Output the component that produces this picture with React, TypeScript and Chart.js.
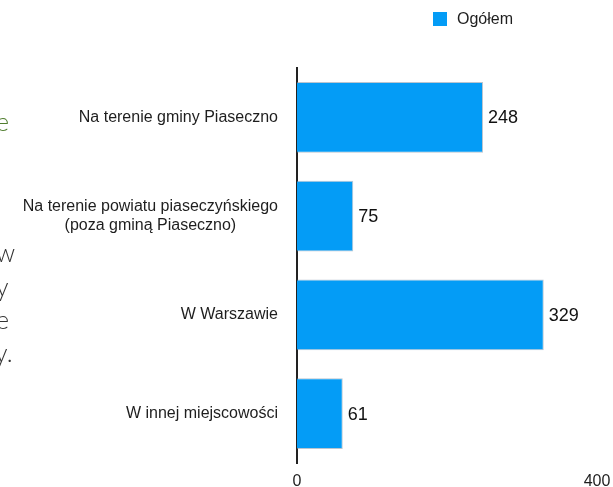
import React, { useEffect, useRef } from "react";
import { Chart, registerables } from "chart.js";

Chart.register(...registerables);

const categories: (string | string[])[] = [
  "Na terenie gminy Piaseczno",
  ["Na terenie powiatu piaseczyńskiego", "(poza gminą Piaseczno)"],
  "W Warszawie",
  "W innej miejscowości",
];
const values: number[] = [248, 75, 329, 61];
const xTicks: number[] = [0, 400];
const seriesLabel = "Ogółem";
const strayLetters: string[] = ["e", "w", "y", "e", "y."];

const BAR_COLOR = "#049cf6";
const TEXT_COLOR = "#1e1e1e";
const FONT = "'Liberation Sans', Arial, Helvetica, sans-serif";
const LABEL_SIZE = 16;
const LABEL_GAP = 19;

// Draws the category labels right-aligned as a block, with multi-line labels centred within it
const categoryLabelPlugin = {
  id: "categoryLabels",
  afterDraw(chart: any) {
    const ctx = chart.ctx;
    const yScale = chart.scales.y;
    const rightEdge = chart.chartArea.left - LABEL_GAP;
    const lineH = LABEL_SIZE * 1.15;
    ctx.save();
    ctx.font = `${LABEL_SIZE}px ${FONT}`;
    ctx.fillStyle = TEXT_COLOR;
    ctx.textAlign = "center";
    ctx.textBaseline = "middle";
    (chart.data.labels as (string | string[])[]).forEach((lab, i) => {
      const lines = Array.isArray(lab) ? lab : [lab];
      const w = Math.max(...lines.map((l) => ctx.measureText(l).width));
      const cx = rightEdge - w / 2;
      const cy = yScale.getPixelForValue(i);
      const y0 = cy - ((lines.length - 1) * lineH) / 2;
      lines.forEach((l, k) => ctx.fillText(l, cx, y0 + k * lineH));
    });
    ctx.restore();
  },
};

const valueLabelPlugin = {
  id: "valueLabels",
  afterDatasetsDraw(chart: any) {
    const ctx = chart.ctx;
    const meta = chart.getDatasetMeta(0);
    ctx.save();
    ctx.font = `18px ${FONT}`;
    ctx.fillStyle = "#111111";
    ctx.textAlign = "left";
    ctx.textBaseline = "middle";
    meta.data.forEach((bar: any, i: number) => {
      ctx.fillText(String(chart.data.datasets[0].data[i]), bar.x + 5, bar.y + 1);
    });
    ctx.restore();
  },
};

export default function App() {
  const canvasRef = useRef<HTMLCanvasElement | null>(null);

  useEffect(() => {
    if (!canvasRef.current) return;
    const chart = new Chart(canvasRef.current, {
      type: "bar",
      data: {
        labels: categories,
        datasets: [
          {
            label: seriesLabel,
            data: values,
            backgroundColor: BAR_COLOR,
            borderColor: "rgba(130,150,170,0.55)",
            borderWidth: 1,
            barPercentage: 0.715,
            categoryPercentage: 1,
          },
        ],
      },
      options: {
        indexAxis: "y",
        responsive: false,
        devicePixelRatio: 1,
        animation: false,
        layout: { padding: { top: 68, right: 16, bottom: 0, left: 0 } },
        plugins: {
          legend: { display: false },
          tooltip: { enabled: false },
        },
        scales: {
          x: {
            type: "linear",
            min: 0,
            max: 400,
            grid: { display: false, drawTicks: false },
            border: { display: false },
            ticks: {
              color: TEXT_COLOR,
              font: { family: FONT, size: 16 },
              padding: 9,
            },
            afterBuildTicks: (scale: any) => {
              scale.ticks = xTicks.map((v) => ({ value: v }));
            },
            afterFit: (scale: any) => {
              scale.height = 24;
              scale.paddingLeft = 0;
              scale.paddingRight = 0;
            },
          },
          y: {
            grid: { display: false, drawTicks: false },
            border: { display: true, color: "#222222", width: 2 },
            ticks: { display: false },
            afterFit: (scale: any) => {
              scale.width = 297;
              scale.paddingTop = 0;
              scale.paddingBottom = 0;
            },
          },
        },
      },
      plugins: [valueLabelPlugin, categoryLabelPlugin],
    });
    return () => chart.destroy();
  }, []);

  const strayTops = [107, 238, 272, 305, 338];

  return (
    <div style={{ position: "fixed", left: 0, top: 0, width: 613, height: 487, background: "#fff", overflow: "hidden" }}>
      <canvas ref={canvasRef} width={613} height={487} style={{ position: "absolute", left: 0, top: 0 }} />
      {strayLetters.map((t, i) => (
        <div
          key={i}
          style={{
            position: "absolute",
            left: t === "y." ? -5 : -4,
            top: strayTops[i],
            fontFamily: "Lato, 'Open Sans', sans-serif",
            fontWeight: 300,
            fontSize: 25,
            lineHeight: "28px",
            color: i === 0 ? "#4f7d2e" : "#333333",
          }}
        >
          {t}
        </div>
      ))}
      <div style={{ position: "absolute", left: 433, top: 10, display: "flex", alignItems: "center", fontFamily: FONT, fontSize: 16, color: TEXT_COLOR }}>
        <span style={{ display: "inline-block", width: 14, height: 14, background: BAR_COLOR, marginRight: 10 }} />
        <span>{seriesLabel}</span>
      </div>
    </div>
  );
}
